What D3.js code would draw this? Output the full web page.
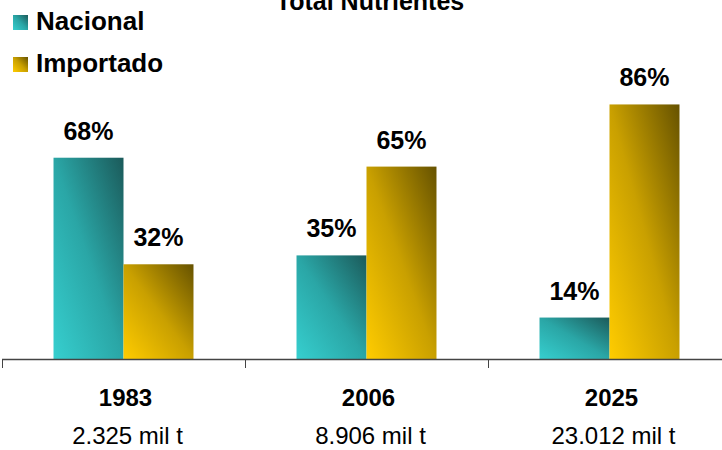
<!DOCTYPE html>
<html>
<head>
<meta charset="utf-8">
<script src="https://cdn.jsdelivr.net/npm/d3@7"></script>
<style>
  body { margin: 0; background: #fff; }
  text { font-family: "Liberation Sans", Arial, sans-serif; fill: #000; }
</style>
</head>
<body>
<div class="chart-container"></div>
<script>
// data
var years = ['1983', '2006', '2025'];
var totals = ['2.325 mil t', '8.906 mil t', '23.012 mil t'];
var series = ['Nacional', 'Importado'];
var nacional = [68, 35, 14];
var importado = [32, 65, 86];

var width = 722, height = 450;
var baseY = 359;

var svg = d3.select('.chart-container').append('svg')
	.attr('width', width)
	.attr('height', height);

// gradients
var defs = svg.append('defs');
var gradStops = {
	Nacional: ['#36CFCF', '#2AA6A6', '#1B5A5A'],
	Importado: ['#FFCC00', '#C9A000', '#665200']
};
series.forEach(function(k) {
	var g = defs.append('linearGradient')
		.attr('id', 'grad-' + k)
		.attr('x1', 0).attr('y1', 1)
		.attr('x2', 1).attr('y2', 0);
	g.append('stop').attr('offset', '0%').attr('stop-color', gradStops[k][0]);
	g.append('stop').attr('offset', '50%').attr('stop-color', gradStops[k][1]);
	g.append('stop').attr('offset', '100%').attr('stop-color', gradStops[k][2]);
});

// scales
var x0 = d3.scaleBand().domain(years).range([2, 731]).padding(0);
var x1 = d3.scaleBand().domain(series).range([0, x0.bandwidth()]).paddingInner(0).paddingOuter(0.736);
var y = d3.scaleLinear().domain([0, 100]).range([baseY, 63]);

var rows = years.map(function(yr, i) {
	return { year: yr, Nacional: nacional[i], Importado: importado[i] };
});

// bars
var group = svg.selectAll('.group')
	.data(rows)
	.enter().append('g')
	.attr('class', 'group')
	.attr('transform', function(d) { return 'translate(' + x0(d.year) + ',0)'; });

var bar = group.selectAll('.bar')
	.data(function(d) { return series.map(function(k) { return { key: k, value: d[k] }; }); })
	.enter();

bar.append('rect')
	.attr('class', 'bar')
	.attr('x', function(d) { return x1(d.key); })
	.attr('y', function(d) { return y(d.value); })
	.attr('width', x1.bandwidth())
	.attr('height', function(d) { return baseY - y(d.value); })
	.style('fill', function(d) { return 'url(#grad-' + d.key + ')'; });

bar.append('text')
	.attr('x', function(d) { return x1(d.key) + x1.bandwidth() / 2; })
	.attr('y', function(d) { return y(d.value) - 18; })
	.attr('text-anchor', 'middle')
	.style('font-size', '25px')
	.style('font-weight', 'bold')
	.text(function(d) { return d.value + '%'; });

// axis
svg.append('line')
	.attr('x1', 2).attr('x2', width)
	.attr('y1', baseY + 0.5).attr('y2', baseY + 0.5)
	.style('stroke', '#444')
	.style('stroke-width', 1.5);

svg.selectAll('.tick-line')
	.data(years)
	.enter().append('line')
	.attr('class', 'tick-line')
	.attr('x1', function(d) { return x0(d) + 0.5; })
	.attr('x2', function(d) { return x0(d) + 0.5; })
	.attr('y1', baseY)
	.attr('y2', baseY + 9)
	.style('stroke', '#444')
	.style('stroke-width', 1);

svg.selectAll('.year-label')
	.data(years)
	.enter().append('text')
	.attr('class', 'year-label')
	.attr('x', function(d) { return x0(d) + x0.bandwidth() / 2 + 2; })
	.attr('y', 406)
	.attr('text-anchor', 'middle')
	.style('font-size', '24px')
	.style('font-weight', 'bold')
	.text(function(d) { return d; });

svg.selectAll('.total-label')
	.data(totals)
	.enter().append('text')
	.attr('class', 'total-label')
	.attr('x', function(d, i) { return x0(years[i]) + x0.bandwidth() / 2 + 4; })
	.attr('y', 444)
	.attr('text-anchor', 'middle')
	.style('font-size', '24px')
	.text(function(d) { return d; });

// title (cut off at top in the original)
svg.append('text')
	.attr('x', 370)
	.attr('y', 10)
	.attr('text-anchor', 'middle')
	.style('font-size', '25px')
	.style('font-weight', 'bold')
	.text('Total Nutrientes');

// legend
var legend = svg.selectAll('.legend')
	.data(series)
	.enter().append('g')
	.attr('class', 'legend')
	.attr('transform', function(d, i) { return 'translate(13,' + (15 + i * 42) + ')'; });

legend.append('rect')
	.attr('width', 15)
	.attr('height', 15)
	.style('fill', function(d) { return 'url(#grad-' + d + ')'; });

legend.append('text')
	.attr('x', 23)
	.attr('y', 15)
	.style('font-size', '26px')
	.style('font-weight', 'bold')
	.text(function(d) { return d; });
</script>
</body>
</html>
